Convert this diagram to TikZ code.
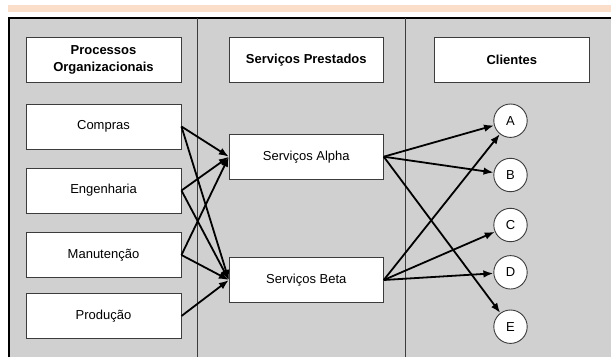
\documentclass[tikz,border=0pt]{standalone}
\usepackage{fontspec}
\setmainfont{Liberation Sans}
\usetikzlibrary{arrows.meta}
\definecolor{peach}{RGB}{250,222,202}
\definecolor{panel}{RGB}{208,208,208}
\definecolor{edge}{RGB}{60,60,60}
\tikzset{
  box/.style={draw=edge, line width=0.9pt, fill=white, minimum width=155pt, minimum height=45pt, inner sep=1pt, align=center, font=\fontsize{13}{16}\selectfont},
  hdr/.style={box, font=\fontsize{13}{16.5}\selectfont\bfseries},
  client/.style={draw=edge, line width=0.9pt, fill=white, circle, minimum size=33.4pt, inner sep=0pt, font=\fontsize{13}{16}\selectfont},
  link/.style={line width=1.8pt, -{Latex[length=10pt,width=7.5pt]}},
}
\begin{document}
\begin{tikzpicture}[x=1pt,y=-1pt]
\useasboundingbox (0,0) rectangle (611,357);
\fill[peach] (8,4.5) rectangle (611,12);
\fill[panel] (9,18) rectangle (611,357);
\draw[line width=1.5pt] (9,357) -- (9,18) -- (611,18);
\draw[edge, line width=0.9pt] (197,18) -- (197,357);
\draw[edge, line width=0.9pt] (405.7,18) -- (405.7,357);

\node[hdr] (h1) at (103.5,59.8) {Processos\\Organizacionais};
\node[hdr, minimum width=154pt] (h2) at (306.3,59.8) {Serviços Prestados};
\node[hdr] (h3) at (511.8,59.8) {Clientes};

\node[box] (compras) at (103.5,126.5) {Compras};
\node[box] (eng) at (103.5,190.5) {Engenharia};
\node[box] (man) at (103.5,255) {Manutenção};
\node[box] (prod) at (103.5,316) {Produção};

\node[box, minimum width=154pt] (alpha) at (306.3,156.7) {Serviços Alpha};
\node[box, minimum width=154pt] (beta) at (306.3,280) {Serviços Beta};

\node[client] (A) at (510.5,120.7) {A};
\node[client] (B) at (510.5,175) {B};
\node[client] (C) at (510.5,225) {C};
\node[client] (D) at (510.5,272.3) {D};
\node[client] (E) at (510.5,326.7) {E};

\draw[link] (compras.east) -- (alpha.west);
\draw[link] (compras.east) -- (beta.west);
\draw[link] (eng.east) -- (alpha.west);
\draw[link] (eng.east) -- (beta.west);
\draw[link] (man.east) -- (alpha.west);
\draw[link] (man.east) -- (beta.west);
\draw[link] (prod.east) -- (beta.west);

\draw[link] (alpha.east) -- (A);
\draw[link] (alpha.east) -- (B);
\draw[link] (alpha.east) -- (E);
\draw[link] (beta.east) -- (A);
\draw[link] (beta.east) -- (C);
\draw[link] (beta.east) -- (D);
\end{tikzpicture}
\end{document}
